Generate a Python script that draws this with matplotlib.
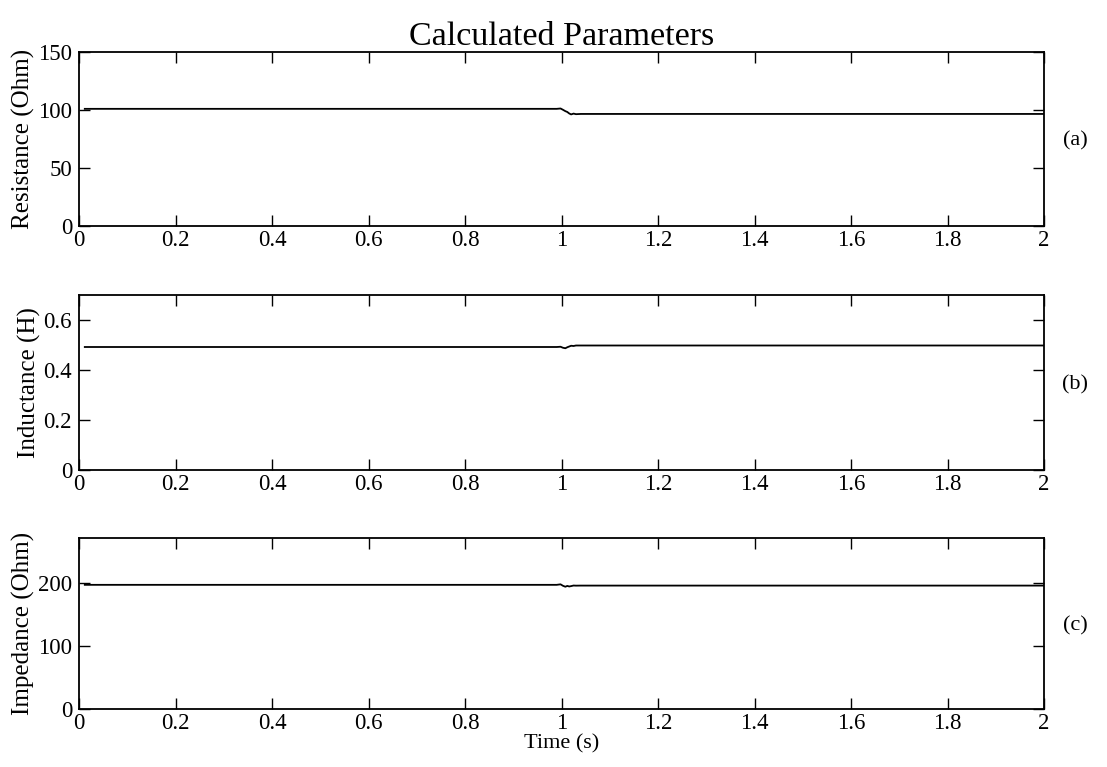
import matplotlib
matplotlib.use("Agg")
import matplotlib.pyplot as plt
import numpy as np

plt.rcParams['font.family'] = ['Liberation Serif', 'DejaVu Serif']
plt.rcParams['font.size'] = 14

# Data
time_s = [0.012, 0.99, 0.998, 1.003, 1.008, 1.012, 1.016, 1.02, 1.025, 1.03, 1.04, 2.0]
resistance = [101.0, 101.0, 101.3, 100.2, 99.0, 98.3, 97.0, 96.2, 96.9, 96.4, 96.6, 96.6]
inductance = [0.492, 0.492, 0.493, 0.489, 0.487, 0.491, 0.494, 0.497, 0.496, 0.498, 0.498, 0.498]
impedance = [197.5, 197.5, 198.3, 196.0, 194.5, 195.8, 194.9, 195.5, 196.4, 196.2, 196.3, 196.3]

xticks = [0, 0.2, 0.4, 0.6, 0.8, 1, 1.2, 1.4, 1.6, 1.8, 2]
xticklabels = ['0', '0.2', '0.4', '0.6', '0.8', '1', '1.2', '1.4', '1.6', '1.8', '2']

panels = [
    dict(y=resistance, ylim=(0, 150), yticks=[0, 50, 100, 150], ylabels=['0', '50', '100', '150'],
         ylabel='Resistance (Ohm)', tag='(a)'),
    dict(y=inductance, ylim=(0, 0.7), yticks=[0, 0.2, 0.4, 0.6], ylabels=['0', '0.2', '0.4', '0.6'],
         ylabel='Inductance (H)', tag='(b)'),
    dict(y=impedance, ylim=(0, 272), yticks=[0, 100, 200], ylabels=['0', '100', '200'],
         ylabel='Impedance (Ohm)', tag='(c)'),
]

fig = plt.figure(figsize=(11.07, 7.67), dpi=100)
W, H = 1107, 767
left, right = 79, 1044
tops = [52, 295, 538]
bottoms = [226, 470, 709]

for i, p in enumerate(panels):
    ax = fig.add_axes([left / W, 1 - bottoms[i] / H, (right - left) / W, (bottoms[i] - tops[i]) / H])
    ax.plot(time_s, p['y'], color='black', linewidth=1.3)
    ax.set_xlim(0, 2)
    ax.set_ylim(*p['ylim'])
    ax.set_xticks(xticks)
    ax.set_xticklabels(xticklabels)
    ax.set_yticks(p['yticks'])
    ax.set_yticklabels(p['ylabels'])
    ax.tick_params(direction='in', top=True, right=True, length=8, width=1, labelsize=16.5)
    ax.tick_params(axis='x', pad=3)
    ax.tick_params(axis='y', pad=5)
    for s in ax.spines.values():
        s.set_linewidth(1.3)
    ax.set_ylabel(p['ylabel'], fontsize=18, labelpad=2)
    fig.text(1075 / W, 1 - ((tops[i] + bottoms[i]) / 2 + 2) / H, p['tag'], fontsize=16,
             ha='center', va='center')
    if i == 0:
        ax.set_title('Calculated Parameters', fontsize=24.5, pad=5)
    if i == 2:
        ax.set_xlabel('Time (s)', fontsize=16, labelpad=0)

fig.savefig('out.png', dpi=100)
